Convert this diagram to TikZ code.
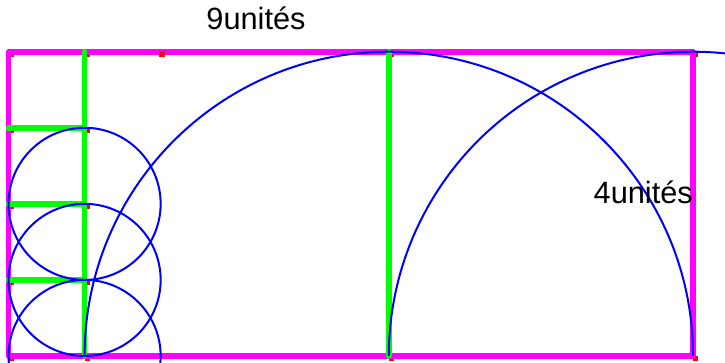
\documentclass[tikz,border=0pt]{standalone}
\usepackage{fontspec}
\setmainfont{Liberation Sans}
\begin{document}
\begin{tikzpicture}[
  frame/.style={draw={rgb,255:red,255;green,0;blue,255}, line width=2.1pt, line join=round},
  seg/.style={draw={rgb,255:red,0;green,255;blue,0}, line width=2.1pt, line cap=round},
  circ/.style={draw={rgb,255:red,0;green,0;blue,255}, line width=0.75pt},
  pt/.style={fill={rgb,255:red,255;green,0;blue,0}, draw=none, minimum size=0.07cm, inner sep=0pt, shape=rectangle},
  lbl/.style={font=\fontsize{11.5}{13}\selectfont, text=black, inner sep=0pt, anchor=base}
]
\useasboundingbox (-0.112,-0.092) rectangle (9.42,4.68);
% points
\coordinate (A) at (0,0);
\coordinate (B) at (9,0);
\coordinate (C) at (9,4);
\coordinate (D) at (0,4);
\coordinate (E) at (1,0);
\coordinate (F) at (1,4);
\coordinate (G) at (5,0);
\coordinate (H) at (5,4);
\coordinate (P1) at (0,1);
\coordinate (P2) at (0,2);
\coordinate (P3) at (0,3);
\coordinate (Q1) at (1,1);
\coordinate (Q2) at (1,2);
\coordinate (Q3) at (1,3);
% red points (partly hidden under lines)
\foreach \p in {A,B,C,D,E,F,G,H,P1,P2,P3,Q1,Q2,Q3}
  \node[pt] at ([shift={(0.035,-0.035)}]\p) {};
% frame
\draw[frame] (A) -- (B) -- (C) -- (D) -- cycle;
\node[pt] at (2.02,3.97) {};
% green segments
\draw[seg] (E) -- (F);
\draw[seg] (G) -- (H);
\draw[seg] (P1) -- (Q1);
\draw[seg] (P2) -- (Q2);
\draw[seg] (P3) -- (Q3);
% blue circles and arcs
\begin{scope}
\clip (-0.112,-0.092) rectangle (9.42,4.68);
\draw[circ] (Q2) circle[radius=1];
\draw[circ] (Q1) circle[radius=1];
\draw[circ] (E) circle[radius=1];
\draw[circ] (E) arc[start angle=180, end angle=0, radius=4];
\draw[circ] (G) arc[start angle=180, end angle=75, radius=4];
\end{scope}
% labels
\node[lbl] (t9) at (3.254,4.286) {9unités};
\node[lbl] (t4) at (8.345,2.01) {4unités};
\end{tikzpicture}
\end{document}
